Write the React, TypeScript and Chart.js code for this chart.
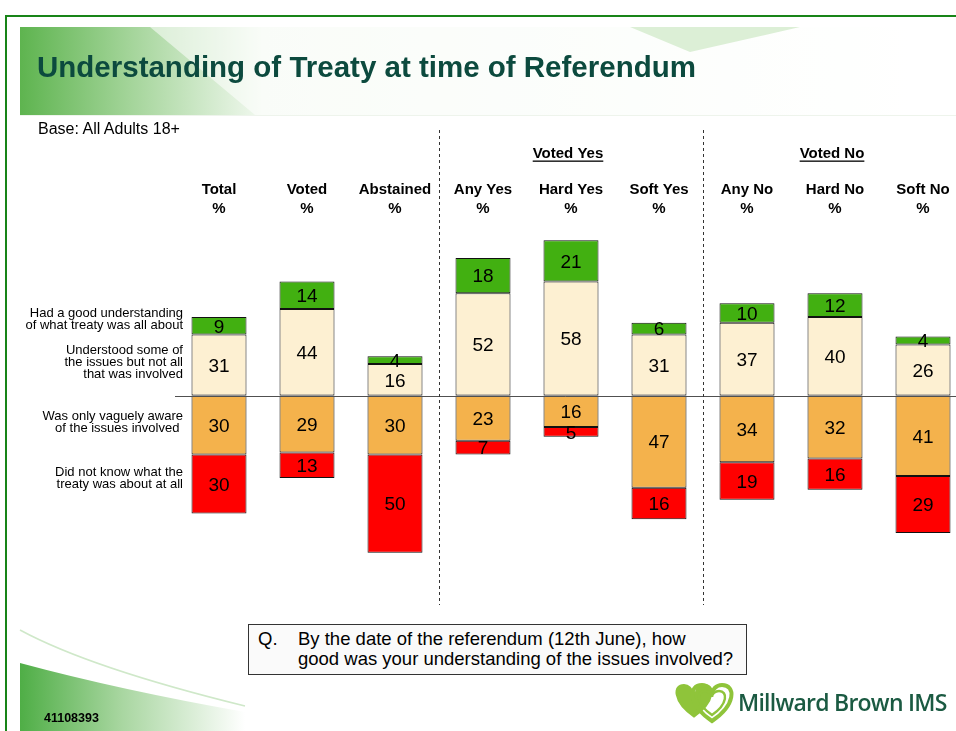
import React, { useEffect, useRef } from "react";
import { Chart, registerables } from "chart.js";

Chart.register(...registerables);

// ---- Data ----
const categories = ["Total", "Voted", "Abstained", "Any Yes", "Hard Yes", "Soft Yes", "Any No", "Hard No", "Soft No"];
const goodUnderstanding = [9, 14, 4, 18, 21, 6, 10, 12, 4];
const understoodSome = [31, 44, 16, 52, 58, 31, 37, 40, 26];
const vaguelyAware = [30, 29, 30, 23, 16, 47, 34, 32, 41];
const didNotKnow = [30, 13, 50, 7, 5, 16, 19, 16, 29];
const groupTitles = ["Voted Yes", "Voted No"];
const groupCenters = [4, 7];
const separatorsAfter = [2, 5];

const FONT = "'Liberation Sans', Arial, Helvetica, sans-serif";

const overlayPlugin = {
  id: "overlay",
  afterDatasetsDraw(chart: any) {
    const ctx = chart.ctx as CanvasRenderingContext2D;
    const xs = chart.scales.x;
    const ys = chart.scales.y;
    const y0 = Math.round(ys.getPixelForValue(0)) + 0.5;
    ctx.save();

    // zero line
    ctx.strokeStyle = "#505050";
    ctx.lineWidth = 1;
    ctx.beginPath();
    ctx.moveTo(chart.chartArea.left, y0);
    ctx.lineTo(956, y0);
    ctx.stroke();

    // value labels
    ctx.fillStyle = "#000";
    ctx.font = `19px ${FONT}`;
    ctx.textAlign = "center";
    ctx.textBaseline = "alphabetic";
    chart.data.datasets.forEach((ds: any, di: number) => {
      const meta = chart.getDatasetMeta(di);
      meta.data.forEach((el: any, i: number) => {
        const p = el.getProps(["x", "y", "base"], true);
        const cy = (p.y + p.base) / 2;
        ctx.fillText(String(Math.abs(ds.data[i])), p.x, cy + 6.8);
      });
    });

    // dashed separators
    ctx.strokeStyle = "#333";
    ctx.setLineDash([3, 3]);
    separatorsAfter.forEach((i) => {
      const sx = Math.round((xs.getPixelForValue(i) + xs.getPixelForValue(i + 1)) / 2) + 0.5;
      ctx.beginPath();
      ctx.moveTo(sx, 130);
      ctx.lineTo(sx, 605);
      ctx.stroke();
    });
    ctx.setLineDash([]);

    // column headers
    ctx.font = `bold 15px ${FONT}`;
    categories.forEach((c, i) => {
      const cx = xs.getPixelForValue(i);
      ctx.fillText(c, cx, 194);
      ctx.fillText("%", cx, 213);
    });
    groupTitles.forEach((g, k) => {
      const cx = xs.getPixelForValue(groupCenters[k]) - 3;
      ctx.fillText(g, cx, 158);
      const w = ctx.measureText(g).width;
      ctx.fillRect(cx - w / 2, 160.5, w, 1.3);
    });
    ctx.restore();
  },
};

export default function App() {
  const ref = useRef<HTMLCanvasElement>(null);

  useEffect(() => {
    if (!ref.current) return;
    const border = "#111111";
    const chart = new Chart(ref.current, {
      type: "bar",
      data: {
        labels: categories,
        datasets: [
          { label: "Understood some of the issues but not all that was involved", data: understoodSome, backgroundColor: "#FDF0D2" },
          { label: "Had a good understanding of what treaty was all about", data: goodUnderstanding, backgroundColor: "#42B011" },
          { label: "Was only vaguely aware of the issues involved", data: vaguelyAware.map((v) => -v), backgroundColor: "#F4B24C" },
          { label: "Did not know what the treaty was about at all", data: didNotKnow.map((v) => -v), backgroundColor: "#FF0000" },
        ].map((d) => ({
          ...d,
          borderColor: border,
          borderWidth: 1,
          borderSkipped: false,
          barPercentage: 0.625,
          categoryPercentage: 1,
        })),
      },
      options: {
        responsive: false,
        animation: false,
        layout: { padding: { left: 175, right: 33, top: 199, bottom: 139 } },
        plugins: { legend: { display: false }, tooltip: { enabled: false } },
        scales: {
          x: { stacked: true, display: false },
          y: { stacked: true, display: false, min: -100, max: 100 },
        },
      },
      plugins: [overlayPlugin],
    } as any);
    return () => chart.destroy();
  }, []);

  const abs = (s: React.CSSProperties): React.CSSProperties => ({ position: "absolute", whiteSpace: "nowrap", ...s });
  const leftLabel: React.CSSProperties = { right: 956 - 183, fontSize: 13, lineHeight: "12px", textAlign: "right", color: "#000" };

  return (
    <div style={{ position: "absolute", left: 0, top: 0, width: 956, height: 731, overflow: "hidden", background: "#fff", fontFamily: FONT }}>
      <svg width={956} height={731} style={{ position: "absolute", left: 0, top: 0 }}>
        <defs>
          <linearGradient id="bannerGrad" x1="20" y1="0" x2="956" y2="0" gradientUnits="userSpaceOnUse">
            <stop offset="0" stopColor="#5eb44f" />
            <stop offset="0.12" stopColor="#a5d59b" />
            <stop offset="0.26" stopColor="#f2f9f0" />
            <stop offset="1" stopColor="#ffffff" />
          </linearGradient>
          <linearGradient id="footGrad" x1="20" y1="0" x2="245" y2="0" gradientUnits="userSpaceOnUse">
            <stop offset="0" stopColor="#4fae46" />
            <stop offset="0.45" stopColor="#a8d6a0" />
            <stop offset="1" stopColor="#ffffff" />
          </linearGradient>
        </defs>
        {/* frame */}
        <rect x={5} y={15} width={951} height={2} fill="#188418" />
        <rect x={5} y={15} width={2} height={716} fill="#188418" />
        {/* banner */}
        <rect x={20} y={27} width={936} height={88} fill="url(#bannerGrad)" />
        <polygon points="150,27 956,27 956,115 255,115" fill="#ffffff" opacity={0.55} />
        <polygon points="630,27 800,27 690,52" fill="#dcefd6" />
        <line x1={20} y1={115.5} x2={956} y2={115.5} stroke="#eef4ec" />
        {/* footer swoosh */}
        <path d="M20,630 L20,663 Q120,690 245,712 L245,731 L20,731 Z" fill="url(#footGrad)" />
        <path d="M20,630 Q90,668 245,706" fill="none" stroke="#cfe8c9" strokeWidth={1.5} />
        {/* logo icon */}
        <g transform="translate(694,701)">
          <path d="M0,18 C-24,2 -24,-18 -10,-18 C-4,-18 0,-13 0,-9 C0,-13 4,-18 10,-18 C24,-18 24,2 0,18 Z" fill="#8fc43a" stroke="#ffffff" strokeWidth={2} />
        </g>
        <g transform="translate(712,703)">
          <path d="M0,18 C-24,2 -24,-18 -10,-18 C-4,-18 0,-13 0,-9 C0,-13 4,-18 10,-18 C24,-18 24,2 0,18 Z" fill="none" stroke="#8fc43a" strokeWidth={4} />
          <path d="M0,12 C-16,1 -16,-12 -7,-12 C-3,-12 0,-9 0,-6 C0,-9 3,-12 7,-12 C16,-12 16,1 0,12 Z" fill="none" stroke="#8fc43a" strokeWidth={2.5} />
        </g>
      </svg>

      <canvas ref={ref} width={1000} height={731} style={{ position: "absolute", left: 0, top: 0, width: 1000, height: 731 }} />

      <div style={abs({ left: 37, top: 52, fontSize: 29.5, lineHeight: "30px", fontWeight: "bold", color: "#0C4A3E" })}>
        Understanding of Treaty at time of Referendum
      </div>
      <div style={abs({ left: 38, top: 120.5, fontSize: 16, lineHeight: "16px", color: "#000" })}>Base: All Adults 18+</div>

      <div style={abs({ ...leftLabel, top: 306.5 })}>Had a good understanding<br />of what treaty was all about</div>
      <div style={abs({ ...leftLabel, top: 343.5 })}>Understood some of<br />the issues but not all<br />that was involved</div>
      <div style={abs({ ...leftLabel, top: 410 })}>Was only vaguely aware<br />of the issues involved&nbsp;</div>
      <div style={abs({ ...leftLabel, top: 466 })}>Did not know what the<br />treaty was about at all</div>

      <div style={abs({ left: 248, top: 624, width: 497, height: 49, border: "1px solid #333", background: "#fafafa" })} />
      <div style={abs({ left: 258, top: 629, fontSize: 18.5, lineHeight: "20px", color: "#000" })}>Q.</div>
      <div style={abs({ left: 298, top: 629, fontSize: 18.5, lineHeight: "20px", color: "#000" })}>
        By the date of the referendum (12th June), how<br />good was your understanding of the issues involved?
      </div>

      <div style={abs({ left: 44, top: 711, fontSize: 12.5, lineHeight: "14px", fontWeight: "bold", color: "#000" })}>41108393</div>
      <div style={abs({ left: 738, top: 690, fontSize: 23, lineHeight: "24px", fontFamily: "'Open Sans', sans-serif", fontWeight: 600, color: "#1B5A42", letterSpacing: -0.75 })}>
        Millward Brown IMS
      </div>
    </div>
  );
}
